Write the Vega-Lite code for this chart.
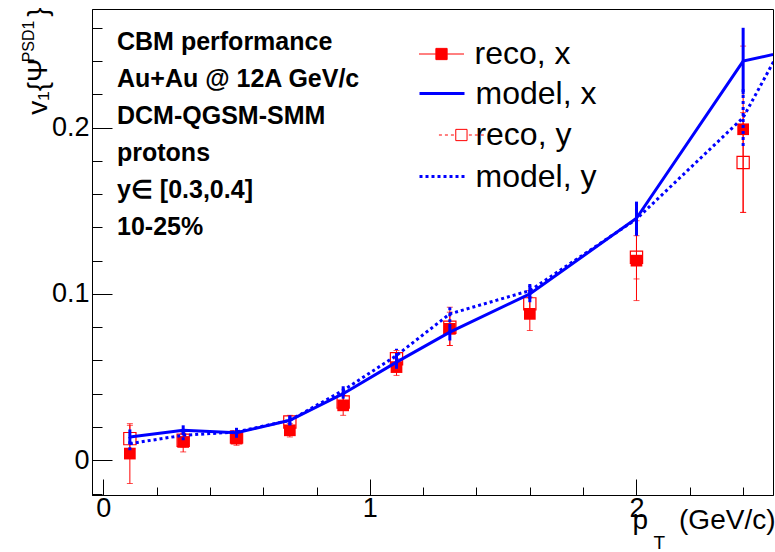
{
  "$schema": "https://vega.github.io/schema/vega-lite/v6.json",
  "width": 681,
  "height": 486,
  "autosize": "none",
  "padding": {"left": 92, "top": 9, "right": 2, "bottom": 57},
  "background": "white",
  "config": {
    "view": {"stroke": "black", "strokeWidth": 1},
    "font": "Liberation Sans",
    "axis": {"grid": false, "domainColor": "black", "tickColor": "black", "labelColor": "black", "titleColor": "black", "labelFont": "Liberation Sans", "titleFont": "Liberation Sans", "titleFontWeight": "normal"},
    "legend": {"labelFontSize": 32, "labelFont": "Liberation Sans", "labelColor": "black", "labelLimit": 400, "padding": 0, "symbolOffset": 0, "symbolOpacity": 1}
  },
  "title": {
    "text": ["CBM performance", "Au+Au @ 12A GeV/c", "DCM-QGSM-SMM", "protons", "y∈ [0.3,0.4]", "10-25%"],
    "anchor": "start",
    "frame": "group",
    "orient": "top",
    "offset": 0,
    "dx": 25,
    "dy": 233,
    "baseline": "top",
    "fontSize": 25,
    "fontWeight": "bold",
    "font": "Liberation Sans",
    "color": "black",
    "lineHeight": 37
  },
  "datasets": {
    "pts": [
      {"series": "reco, x", "pt": 0.1, "v1": 0.004, "lo": -0.014, "hi": 0.022},
      {"series": "reco, x", "pt": 0.3, "v1": 0.011, "lo": 0.005, "hi": 0.017},
      {"series": "reco, x", "pt": 0.5, "v1": 0.013, "lo": 0.009, "hi": 0.017},
      {"series": "reco, x", "pt": 0.7, "v1": 0.018, "lo": 0.014, "hi": 0.022},
      {"series": "reco, x", "pt": 0.9, "v1": 0.033, "lo": 0.027, "hi": 0.039},
      {"series": "reco, x", "pt": 1.1, "v1": 0.056, "lo": 0.051, "hi": 0.061},
      {"series": "reco, x", "pt": 1.3, "v1": 0.079, "lo": 0.069, "hi": 0.089},
      {"series": "reco, x", "pt": 1.6, "v1": 0.088, "lo": 0.078, "hi": 0.098},
      {"series": "reco, x", "pt": 2.0, "v1": 0.120, "lo": 0.096, "hi": 0.144},
      {"series": "reco, x", "pt": 2.4, "v1": 0.199, "lo": 0.149, "hi": 0.249},
      {"series": "reco, y", "pt": 0.1, "v1": 0.013, "lo": 0.005, "hi": 0.021},
      {"series": "reco, y", "pt": 0.3, "v1": 0.012, "lo": 0.008, "hi": 0.016},
      {"series": "reco, y", "pt": 0.5, "v1": 0.014, "lo": 0.011, "hi": 0.017},
      {"series": "reco, y", "pt": 0.7, "v1": 0.023, "lo": 0.019, "hi": 0.027},
      {"series": "reco, y", "pt": 0.9, "v1": 0.035, "lo": 0.031, "hi": 0.039},
      {"series": "reco, y", "pt": 1.1, "v1": 0.061, "lo": 0.056, "hi": 0.066},
      {"series": "reco, y", "pt": 1.3, "v1": 0.080, "lo": 0.069, "hi": 0.092},
      {"series": "reco, y", "pt": 1.6, "v1": 0.094, "lo": 0.086, "hi": 0.102},
      {"series": "reco, y", "pt": 2.0, "v1": 0.122, "lo": 0.109, "hi": 0.135},
      {"series": "reco, y", "pt": 2.4, "v1": 0.179, "lo": 0.149, "hi": 0.209},
      {"series": "model, x", "pt": 0.1, "v1": 0.014, "lo": 0.0095, "hi": 0.0185},
      {"series": "model, x", "pt": 0.3, "v1": 0.018, "lo": 0.015, "hi": 0.021},
      {"series": "model, x", "pt": 0.5, "v1": 0.0165, "lo": 0.0135, "hi": 0.0195},
      {"series": "model, x", "pt": 0.7, "v1": 0.024, "lo": 0.021, "hi": 0.027},
      {"series": "model, x", "pt": 0.9, "v1": 0.040, "lo": 0.037, "hi": 0.043},
      {"series": "model, x", "pt": 1.1, "v1": 0.059, "lo": 0.055, "hi": 0.063},
      {"series": "model, x", "pt": 1.3, "v1": 0.077, "lo": 0.072, "hi": 0.082},
      {"series": "model, x", "pt": 1.6, "v1": 0.100, "lo": 0.095, "hi": 0.105},
      {"series": "model, x", "pt": 2.0, "v1": 0.1455, "lo": 0.1355, "hi": 0.1555},
      {"series": "model, x", "pt": 2.4, "v1": 0.240, "lo": 0.220, "hi": 0.260},
      {"series": "model, x", "pt": 2.8, "v1": 0.254, "lo": 0.224, "hi": 0.284},
      {"series": "model, y", "pt": 0.1, "v1": 0.010, "lo": 0.006, "hi": 0.014},
      {"series": "model, y", "pt": 0.3, "v1": 0.015, "lo": 0.012, "hi": 0.018},
      {"series": "model, y", "pt": 0.5, "v1": 0.017, "lo": 0.014, "hi": 0.020},
      {"series": "model, y", "pt": 0.7, "v1": 0.024, "lo": 0.021, "hi": 0.027},
      {"series": "model, y", "pt": 0.9, "v1": 0.042, "lo": 0.039, "hi": 0.045},
      {"series": "model, y", "pt": 1.1, "v1": 0.063, "lo": 0.059, "hi": 0.067},
      {"series": "model, y", "pt": 1.3, "v1": 0.088, "lo": 0.083, "hi": 0.093},
      {"series": "model, y", "pt": 1.6, "v1": 0.102, "lo": 0.097, "hi": 0.107},
      {"series": "model, y", "pt": 2.0, "v1": 0.145, "lo": 0.135, "hi": 0.155},
      {"series": "model, y", "pt": 2.4, "v1": 0.206, "lo": 0.189, "hi": 0.223},
      {"series": "model, y", "pt": 2.8, "v1": 0.324, "lo": 0.294, "hi": 0.354}
    ]
  },
  "data": {"name": "pts"},
  "resolve": {"axis": {"x": "independent", "y": "independent"}},
  "layer": [
    {
      "transform": [{"filter": "indexof(datum.series, 'reco') === 0"}],
      "mark": {"type": "rule", "color": "#ff0000", "strokeWidth": 1, "clip": true},
      "encoding": {
        "x": {
          "field": "pt", "type": "quantitative",
          "scale": {"domain": [-0.042, 2.512], "nice": false, "zero": false},
          "axis": {
            "orient": "bottom",
            "values": [0, 1, 2], "format": "~g", "tickSize": -16, "labelPadding": 16, "labelFontSize": 27, "labelFlush": false,
            "title": "(GeV/c)", "titleFontSize": 28, "titleAngle": 0, "titleAlign": "right", "titleBaseline": "alphabetic", "titleX": 683, "titleY": 33
          }
        },
        "y": {
          "field": "lo", "type": "quantitative",
          "scale": {"domain": [-0.0209, 0.2713], "nice": false, "zero": false},
          "axis": {
            "orient": "left",
            "values": [0, 0.1, 0.2], "format": "~g", "tickSize": -20, "labelPadding": 23, "labelFontSize": 27, "labelFlush": false,
            "title": "v₁{Ψ", "titleFontSize": 28, "titleAngle": 270, "titleAlign": "right", "titleBaseline": "alphabetic", "titleX": -46, "titleY": 49
          }
        },
        "y2": {"field": "hi"}
      }
    },
    {
      "transform": [{"filter": "indexof(datum.series, 'reco') === 0"}],
      "mark": {"type": "tick", "orient": "horizontal", "color": "#ff0000", "size": 6, "thickness": 1, "clip": true},
      "encoding": {
        "x": {
          "field": "pt", "type": "quantitative",
          "axis": {
            "orient": "bottom",
            "values": [0.2, 0.4, 0.6, 0.8, 1.2, 1.4, 1.6, 1.8, 2.2, 2.4], "tickSize": -8, "labels": false, "domain": false,
            "title": "p", "titleFontSize": 28, "titleAngle": 0, "titleAlign": "left", "titleBaseline": "alphabetic", "titleX": 540, "titleY": 33
          }
        },
        "y": {
          "field": "lo", "type": "quantitative",
          "axis": {
            "orient": "left", "values": [-0.02, 0.02, 0.04, 0.06, 0.08, 0.12, 0.14, 0.16, 0.18, 0.22, 0.24, 0.26], "tickSize": -10, "labels": false, "domain": false,
            "title": "PSD1", "titleFontSize": 16, "titleAngle": 270, "titleAlign": "right", "titleBaseline": "alphabetic", "titleX": -59, "titleY": 11
          }
        }
      }
    },
    {
      "transform": [{"filter": "indexof(datum.series, 'reco') === 0"}],
      "mark": {"type": "tick", "orient": "horizontal", "color": "#ff0000", "size": 6, "thickness": 1, "clip": true},
      "encoding": {
        "x": {
          "field": "pt", "type": "quantitative",
          "axis": {
            "orient": "bottom",
            "ticks": false, "labels": false, "domain": false,
            "title": "T", "titleFontSize": 19, "titleAngle": 0, "titleAlign": "left", "titleBaseline": "alphabetic", "titleX": 561, "titleY": 53
          }
        },
        "y": {
          "field": "hi", "type": "quantitative",
          "axis": {
            "orient": "left", "ticks": false, "labels": false, "domain": false,
            "title": "}", "titleFontSize": 28, "titleAngle": 270, "titleAlign": "right", "titleBaseline": "alphabetic", "titleX": -46, "titleY": -2
          }
        }
      }
    },
    {
      "transform": [{"filter": "datum.series === 'reco, x'"}],
      "mark": {"type": "point", "shape": "square", "filled": true, "color": "#ff0000", "opacity": 1, "size": 137},
      "encoding": {
        "x": {"field": "pt", "type": "quantitative", "axis": null},
        "y": {"field": "v1", "type": "quantitative", "axis": null},
        "fill": {
          "field": "series", "type": "nominal",
          "scale": {"domain": ["reco, x"], "range": ["#ff0000"]},
          "legend": {
            "title": null, "orient": "none", "legendX": 333.5, "legendY": 29,
            "symbolType": "M-1.5,0H-0.375M0.375,0H1.5M-0.375,-0.375H0.375V0.375H-0.375Z",
            "symbolSize": 900, "symbolStrokeColor": "#ff0000", "symbolStrokeWidth": 1, "labelOffset": 17
          }
        }
      }
    },
    {
      "transform": [{"filter": "datum.series === 'reco, y'"}],
      "mark": {"type": "point", "shape": "square", "filled": false, "color": "#ff0000", "opacity": 1, "strokeWidth": 1.2},
      "encoding": {
        "x": {"field": "pt", "type": "quantitative", "axis": null},
        "y": {"field": "v1", "type": "quantitative", "axis": null},
        "size": {
          "field": "series", "type": "nominal",
          "scale": {"type": "ordinal", "domain": ["reco, y"], "range": [150]},
          "legend": {
            "title": null, "orient": "none", "legendX": 353.4, "legendY": 110,
            "symbolType": "M-3.67,0H-3.18M-2.69,0H-2.2M-1.71,0H-1.22M1.22,0H1.71M2.2,0H2.69M3.18,0H3.67M-0.92,-0.92H0.92V0.92H-0.92Z",
            "symbolStrokeColor": "#ff0000", "symbolFillColor": "transparent", "symbolStrokeWidth": 1, "labelOffset": -2
          }
        }
      }
    },
    {
      "transform": [{"filter": "datum.series === 'model, x'"}],
      "mark": {"type": "line", "strokeWidth": 3, "clip": true},
      "encoding": {
        "x": {"field": "pt", "type": "quantitative", "axis": null},
        "y": {"field": "v1", "type": "quantitative", "axis": null},
        "stroke": {
          "field": "series", "type": "nominal",
          "scale": {"domain": ["model, x"], "range": ["#0000ff"]},
          "legend": {
            "title": null, "orient": "none", "legendX": 333.5, "legendY": 68,
            "symbolType": "M-1.5,0H1.5", "symbolSize": 900, "symbolStrokeWidth": 3, "labelOffset": 17
          }
        }
      }
    },
    {
      "transform": [{"filter": "datum.series === 'model, y'"}],
      "mark": {"type": "line", "strokeWidth": 3, "color": "#0000ff", "clip": true},
      "encoding": {
        "x": {"field": "pt", "type": "quantitative", "axis": null},
        "y": {"field": "v1", "type": "quantitative", "axis": null},
        "strokeDash": {
          "field": "series", "type": "nominal",
          "scale": {"domain": ["model, y"], "range": [[3, 3]]},
          "legend": {
            "title": null, "orient": "none", "legendX": 333.5, "legendY": 151,
            "symbolType": "M-1.5,0H1.5", "symbolSize": 900, "symbolStrokeWidth": 3, "symbolStrokeColor": "#0000ff", "labelOffset": 17
          }
        }
      }
    },
    {
      "transform": [{"filter": "datum.series === 'model, x'"}],
      "mark": {"type": "rule", "strokeWidth": 3, "color": "#0000ff", "clip": true},
      "encoding": {
        "x": {"field": "pt", "type": "quantitative", "axis": null},
        "y": {"field": "lo", "type": "quantitative", "axis": null},
        "y2": {"field": "hi"}
      }
    },
    {
      "transform": [{"filter": "datum.series === 'model, y'"}],
      "mark": {"type": "rule", "strokeWidth": 3, "strokeDash": [3, 3], "color": "#0000ff", "clip": true},
      "encoding": {
        "x": {"field": "pt", "type": "quantitative", "axis": null},
        "y": {"field": "lo", "type": "quantitative", "axis": null},
        "y2": {"field": "hi"}
      }
    }
  ]
}
